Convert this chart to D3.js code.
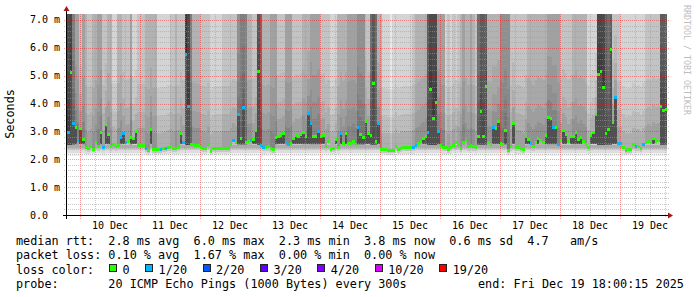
<!DOCTYPE html>
<html>
<head>
<meta charset="utf-8">
<script src="https://cdn.jsdelivr.net/npm/d3@7"></script>
<style>
body { margin: 0; background: #fff; }
svg { display: block; }
text { font-family: "DejaVu Sans Mono", monospace; }
</style>
</head>
<body>
<div id="chart"></div>
<script>
// one value per hour, 240 hours (10 days), median rtt in ms
var medianRtt = [
	2.99, 5.12, 3.31, 3.17, 2.69, 3.13, 2.73, 2.45, 2.39, 2.48, 2.37, 2.63, 2.48, 2.99, 2.45, 3.27, 2.90, 2.49, 2.55, 2.49, 2.52, 2.81, 2.95, 2.63,
	2.67, 2.81, 2.77, 3.02, 2.51, 2.51, 2.51, 2.39, 2.33, 3.08, 2.36, 2.36, 2.36, 2.36, 2.39, 2.40, 2.45, 2.48, 2.42, 2.42, 2.45, 2.95, 2.63, 5.77,
	3.91, 2.55, 2.55, 2.53, 2.51, 2.45, 2.42, 2.39, 2.55, 2.31, 2.40, 2.42, 2.42, 2.42, 2.42, 2.42, 2.42, 2.54, 2.69, 2.61, 3.62, 2.75, 3.88, 2.61,
	2.65, 2.69, 2.72, 3.05, 5.18, 2.51, 2.45, 2.43, 2.49, 2.42, 2.36, 2.79, 2.84, 2.88, 2.95, 2.61, 2.54, 2.58, 2.75, 2.87, 2.84, 2.90, 2.99, 2.85,
	3.67, 3.29, 2.84, 2.84, 3.03, 2.84, 2.88, 2.49, 2.66, 2.38, 2.42, 2.72, 2.43, 2.93, 2.60, 2.94, 2.59, 2.60, 2.65, 2.54, 3.15, 2.91, 2.79, 3.37,
	2.95, 2.86, 4.75, 2.67, 3.29, 2.36, 2.36, 2.36, 2.33, 2.33, 2.33, 2.48, 2.36, 2.40, 2.43, 2.43, 2.43, 2.43, 2.45, 2.51, 2.57, 2.67, 2.75, 2.85,
	2.99, 4.52, 3.47, 4.06, 3.03, 2.51, 2.45, 2.43, 2.36, 2.43, 2.50, 2.63, 2.55, 2.41, 2.62, 2.70, 2.48, 2.51, 2.47, 2.43, 2.84, 3.72, 2.84, 4.63,
	2.61, 2.55, 3.15, 3.11, 3.38, 2.60, 2.54, 3.05, 2.33, 2.48, 3.29, 2.45, 2.45, 2.42, 2.36, 2.84, 2.72, 2.57, 2.48, 2.63, 2.75, 2.70, 2.63, 2.87,
	3.51, 3.47, 3.17, 3.17, 2.54, 2.69, 3.05, 2.91, 2.67, 2.84, 2.84, 2.99, 2.72, 2.80, 2.67, 2.55, 2.45, 2.87, 2.99, 3.63, 5.06, 5.18, 4.58, 2.95,
	3.10, 5.96, 3.35, 4.25, 2.57, 2.57, 2.43, 2.33, 2.36, 2.36, 2.54, 2.48, 2.48, 2.39, 2.54, 2.61, 2.67, 2.61, 2.75, 2.67, 2.70, 3.91, 3.77, 3.80
];

// lost pings (out of 20) per hour
var lossPings = [
	1,0,1,0,1,0,0,0,0,0,0,0,0,0,1,0,0,0,0,0,0,1,1,1,
	0,0,0,0,0,0,0,1,0,0,0,0,0,1,0,1,0,0,0,0,0,0,1,1,
	1,0,0,0,0,0,0,0,0,0,0,0,0,0,0,0,0,0,1,0,1,0,1,0,
	0,1,0,0,0,1,1,0,0,0,0,0,0,0,0,1,1,0,0,0,0,0,0,0,
	1,1,0,0,1,0,0,0,0,0,0,0,0,1,0,0,0,0,0,0,1,0,0,0,
	0,0,0,0,1,0,0,0,0,0,0,0,0,0,0,0,0,0,1,1,0,0,0,0,
	1,0,0,0,1,0,0,0,0,0,0,0,0,0,0,0,0,0,0,0,0,0,0,0,
	0,0,1,0,0,0,0,0,0,0,0,0,0,0,0,0,0,1,0,0,0,0,0,0,
	0,0,1,0,1,0,0,0,0,0,0,0,0,0,0,0,0,0,0,0,0,0,0,0,
	0,0,0,1,1,1,0,0,0,0,0,1,0,0,1,0,0,0,0,0,0,0,0,0
];

// pings above the top of the graph per hour (pairs of smoke that reach the top)
var pingsOverTop = [
	9,9,6,4,4,2,4,3,2,2,3,3,4,4,2,2,3,3,1,1,3,3,2,2,
	2,4,1,1,2,2,2,3,3,3,3,3,1,1,1,1,1,2,2,3,2,2,2,10,
	9,6,3,3,3,2,2,2,2,1,1,1,1,1,2,2,2,2,2,2,5,6,6,6,
	3,3,2,2,8,7,3,3,3,4,4,4,2,2,2,4,4,4,2,2,2,2,3,3,
	3,4,4,4,4,2,2,2,2,1,1,1,3,3,3,3,4,4,4,4,5,5,5,2,
	2,7,8,7,3,3,1,1,1,0,1,1,1,1,1,1,1,1,2,3,3,3,3,3,
	8,9,9,9,4,4,4,1,2,1,2,1,2,3,4,3,3,4,3,2,7,8,8,8,
	3,3,3,3,3,5,5,5,5,2,2,2,2,2,2,2,3,3,3,3,3,3,3,3,
	4,4,4,4,4,2,2,2,2,2,3,3,3,3,3,3,1,1,1,1,9,9,9,8,
	7,7,2,2,2,1,1,1,1,1,1,1,1,1,1,2,2,2,2,2,2,8,8,8
];

var smokeFloor = 2.1; // lowest ping seen (ms)

var dayLabels = ["10 Dec", "11 Dec", "12 Dec", "13 Dec", "14 Dec", "15 Dec", "16 Dec", "17 Dec", "18 Dec", "19 Dec"];
var yTicks = [0, 1, 2, 3, 4, 5, 6, 7];
var yTickLabels = ["0.0", "1.0 m", "2.0 m", "3.0 m", "4.0 m", "5.0 m", "6.0 m", "7.0 m"];

var lossLabels = ["0", "1/20", "2/20", "3/20", "4/20", "10/20", "19/20"];
var lossColors = ["#26ff00", "#00b8ff", "#0059ff", "#5e00ff", "#7e00ff", "#dd00ff", "#ff0000"];

var legendLines = [
	"median rtt:  2.8 ms avg  6.0 ms max  2.3 ms min  3.8 ms now  0.6 ms sd  4.7   am/s",
	"packet loss: 0.10 % avg  1.67 % max  0.00 % min  0.00 % now",
	"loss color:",
	"probe:       20 ICMP Echo Pings (1000 Bytes) every 300s"
];
var endLabel = "end: Fri Dec 19 18:00:15 2025";

var size = { width: 697, height: 297 };
var hour = 3600000;
var startTime = Date.UTC(2025, 11, 9, 18, 48);

// scales
var xScale = d3.scaleUtc()
	.domain([new Date(startTime), new Date(startTime + 240 * hour)])
	.range([67, 667]);

var yScale = d3.scaleLinear()
	.domain([0, 7.2])
	.range([215, 14.4]);

var svg = d3.select("#chart").append("svg")
	.attr("width", size.width)
	.attr("height", size.height)
	.style("background", "#fff");

function shade(k) {
	if (k <= 0) return "#e8e8e8";
	var v = 212 - 17 * (k - 1);
	return d3.rgb(v, v, v).toString();
}

var cols = medianRtt.map(function(m, i) {
	return {
		x0: Math.round(xScale(new Date(startTime + i * hour))),
		x1: Math.round(xScale(new Date(startTime + (i + 1) * hour))),
		median: m,
		loss: lossPings[i],
		over: pingsOverTop[i]
	};
});

var smoke = svg.append("g").attr("shape-rendering", "crispEdges");

// base smoke, colour of the pings that go past the top
smoke.selectAll("rect.base").data(cols).enter().append("rect")
	.attr("class", "base")
	.attr("x", function(d) { return d.x0; })
	.attr("width", function(d) { return d.x1 - d.x0; })
	.attr("y", yScale(7.2))
	.attr("height", yScale(2.3) - yScale(7.2))
	.attr("fill", function(d) { return shade(d.over); });

// darker layers of smoke just above the median, thinner going up
var upLayers = [
	{ span: 2.2, alpha: 0.05 },
	{ span: 1.2, alpha: 0.06 },
	{ span: 0.6, alpha: 0.08 }
];
upLayers.forEach(function(layer) {
	smoke.append("g").selectAll("rect").data(cols).enter().append("rect")
		.attr("x", function(d) { return d.x0; })
		.attr("width", function(d) { return d.x1 - d.x0; })
		.attr("y", function(d) { return yScale(Math.min(d.median + layer.span, 7.2)); })
		.attr("height", function(d) { return yScale(d.median) - yScale(Math.min(d.median + layer.span, 7.2)); })
		.attr("fill", "#000")
		.attr("fill-opacity", layer.alpha);
});

// fading smoke below the median, from the lowest ping upwards
var downLayers = [
	{ from: 0.0, color: "#f2f2f2" },
	{ from: 0.3, color: "#dedede" },
	{ from: 0.55, color: "#c6c6c6" },
	{ from: 0.8, color: "#ababab" }
];
downLayers.forEach(function(layer) {
	smoke.append("g").selectAll("rect").data(cols).enter().append("rect")
		.attr("x", function(d) { return d.x0; })
		.attr("width", function(d) { return d.x1 - d.x0; })
		.attr("y", function(d) { return yScale(Math.min(d.median, 2.5)); })
		.attr("height", function(d) {
			var top = Math.min(d.median, 2.5);
			var bottom = smokeFloor + (top - smokeFloor) * layer.from;
			return Math.max(0, yScale(bottom) - yScale(top));
		})
		.attr("fill", layer.color);
});

// inner pair of pings, dark, when the median jumps well above the floor
smoke.selectAll("rect.inner").data(cols.filter(function(d) { return d.median > 2.7; })).enter().append("rect")
	.attr("class", "inner")
	.attr("x", function(d) { return d.x0; })
	.attr("width", function(d) { return d.x1 - d.x0; })
	.attr("y", function(d) { return yScale(d.median); })
	.attr("height", function(d) { return yScale(2.55) - yScale(d.median); })
	.attr("fill", "#505050");

// grid
var grid = svg.append("g").attr("shape-rendering", "crispEdges");

var minorY = d3.range(1, 36).map(function(i) { return i * 0.2; }).filter(function(v) { return Math.abs(v - Math.round(v)) > 0.01; });
grid.selectAll("line.minory").data(minorY).enter().append("line")
	.attr("x1", 64).attr("x2", 670)
	.attr("y1", function(d) { return Math.round(yScale(d)) + 0.5; })
	.attr("y2", function(d) { return Math.round(yScale(d)) + 0.5; })
	.attr("stroke", "#9a9a9a").attr("stroke-opacity", 0.55)
	.attr("stroke-dasharray", "1,1");

var minorX = d3.utcHour.every(6).range(xScale.domain()[0], xScale.domain()[1])
	.filter(function(d) { return d.getUTCHours() !== 0; });
grid.selectAll("line.minorx").data(minorX).enter().append("line")
	.attr("x1", function(d) { return Math.round(xScale(d)) + 0.5; })
	.attr("x2", function(d) { return Math.round(xScale(d)) + 0.5; })
	.attr("y1", yScale(7.2)).attr("y2", 218)
	.attr("stroke", "#9a9a9a").attr("stroke-opacity", 0.55)
	.attr("stroke-dasharray", "1,1");

grid.selectAll("line.majory").data(yTicks.filter(function(v) { return v > 0; })).enter().append("line")
	.attr("x1", 64).attr("x2", 670)
	.attr("y1", function(d) { return Math.round(yScale(d)) + 0.5; })
	.attr("y2", function(d) { return Math.round(yScale(d)) + 0.5; })
	.attr("stroke", "#ff0000").attr("stroke-opacity", 0.4)
	.attr("stroke-dasharray", "1,1");

var majorX = d3.utcDay.range(xScale.domain()[0], xScale.domain()[1]);
grid.selectAll("line.majorx").data(majorX).enter().append("line")
	.attr("x1", function(d) { return Math.round(xScale(d)) + 0.5; })
	.attr("x2", function(d) { return Math.round(xScale(d)) + 0.5; })
	.attr("y1", yScale(7.2)).attr("y2", 219)
	.attr("stroke", "#ff0000").attr("stroke-opacity", 0.4)
	.attr("stroke-dasharray", "1,1");

// median markers coloured by loss
svg.append("g").attr("shape-rendering", "crispEdges")
	.selectAll("rect").data(cols).enter().append("rect")
	.attr("x", function(d) { return d.x0; })
	.attr("width", function(d) { return d.x1 - d.x0; })
	.attr("y", function(d) { return Math.round(yScale(d.median)) - 1; })
	.attr("height", 3)
	.attr("fill", function(d) { return lossColors[d.loss]; });

// axes
var axes = svg.append("g").attr("shape-rendering", "crispEdges");
axes.append("line").attr("x1", 63).attr("x2", 668).attr("y1", 215.5).attr("y2", 215.5).attr("stroke", "#000");
axes.append("line").attr("x1", 66.5).attr("x2", 66.5).attr("y1", 219).attr("y2", 11).attr("stroke", "#000");
svg.append("path").attr("d", "M668,212.5 L673,215.5 L668,218.5 Z").attr("fill", "#a01818");
svg.append("path").attr("d", "M63.5,11 L66.5,6 L69.5,11 Z").attr("fill", "#a01818");

// y tick labels
svg.append("g").selectAll("text").data(yTicks).enter().append("text")
	.attr("x", 30)
	.attr("y", function(d) { return yScale(d) + 3.5; })
	.attr("font-size", "10px")
	.attr("fill", "#000")
	.text(function(d, i) { return yTickLabels[i]; });

// x labels at noon of each day
var noons = dayLabels.map(function(label, i) { return new Date(Date.UTC(2025, 11, 10 + i, 12)); });
svg.append("g").selectAll("text").data(noons).enter().append("text")
	.attr("x", function(d) { return xScale(d); })
	.attr("y", 228.5)
	.attr("text-anchor", "middle")
	.attr("font-size", "10px")
	.attr("fill", "#000")
	.text(function(d, i) { return dayLabels[i]; });

// y axis title
svg.append("text")
	.attr("transform", "translate(14,114) rotate(-90)")
	.attr("text-anchor", "middle")
	.attr("font-size", "11.8px")
	.attr("fill", "#000")
	.text("Seconds");

// watermark on the right
svg.append("text")
	.attr("transform", "translate(684,5) rotate(90)")
	.attr("font-size", "8.3px")
	.attr("fill", "#bdbdbd")
	.text("RRDTOOL / TOBI OETIKER");

// legend
var charW = 7.1;
var legend = svg.append("g").attr("font-size", "11.8px").attr("fill", "#000");
var baselines = [245, 259.3, 273.5, 287.7];
legendLines.forEach(function(line, i) {
	legend.append("text")
		.attr("x", 16)
		.attr("y", baselines[i])
		.attr("xml:space", "preserve")
		.style("white-space", "pre")
		.text(line);
});
legend.append("text")
	.attr("x", 478)
	.attr("y", baselines[3])
	.text(endLabel);

var bx = 109;
lossLabels.forEach(function(label, i) {
	legend.append("rect")
		.attr("x", bx + 0.5).attr("y", 264.5)
		.attr("width", 7).attr("height", 7)
		.attr("fill", lossColors[i])
		.attr("stroke", "#222")
		.attr("shape-rendering", "crispEdges");
	legend.append("text")
		.attr("x", bx + 13.5)
		.attr("y", baselines[2])
		.text(label);
	bx = bx + 13.5 + label.length * charW + 15.5;
});
</script>
</body>
</html>
